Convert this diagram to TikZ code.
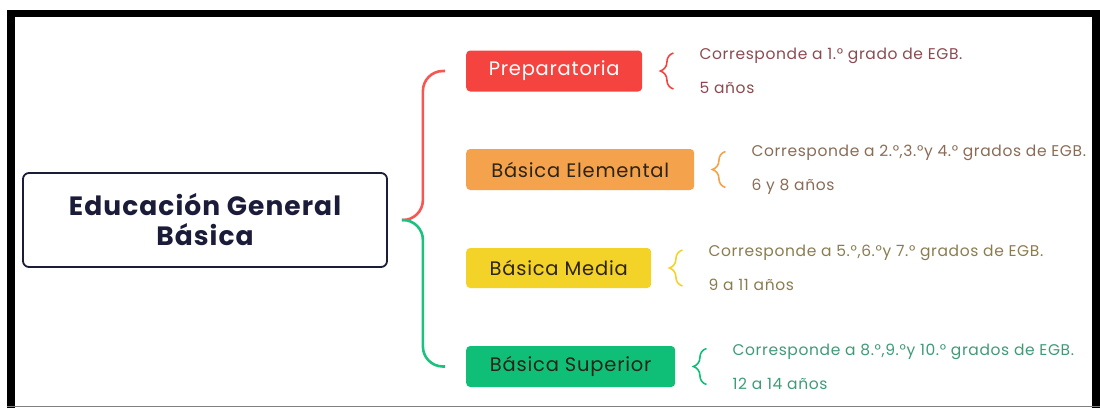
\documentclass[tikz,border=0pt]{standalone}
\usepackage{fontspec}
\setmainfont{Poppins}
\usetikzlibrary{positioning,decorations.pathreplacing}

\definecolor{navy}{HTML}{1B1B3A}
\definecolor{prepfill}{HTML}{F5443F}
\definecolor{elemfill}{HTML}{F4A24C}
\definecolor{mediafill}{HTML}{F3D327}
\definecolor{supfill}{HTML}{0FBF77}
\definecolor{darktext}{HTML}{2D2418}
\definecolor{prepinfo}{HTML}{8B4A50}
\definecolor{eleminfo}{HTML}{8A6B55}
\definecolor{mediainfo}{HTML}{8A7C4F}
\definecolor{supinfo}{HTML}{3F9A76}

\tikzset{
  level/.style={rounded corners=4pt, minimum height=41pt, anchor=west, inner sep=0pt,
    font=\fontsize{19.5}{22}\selectfont\addfontfeature{LetterSpace=4}, text=darktext},
  info/.style={anchor=west, align=left, inner sep=0pt,
    font=\fontsize{15.5}{34}\selectfont\addfontfeature{LetterSpace=4}},
  bracket/.style={line width=1.6pt, decorate, decoration={brace, amplitude=13pt}},
  branch/.style={line width=2.6pt, rounded corners=20pt}
}

\begin{document}
\begin{tikzpicture}[x=1pt, y=-1pt]
    \useasboundingbox (0,0) rectangle (1100,408);

    % Frame
    \fill[black] (7,10) rectangle (1100,17);
    \fill[black] (7,10) rectangle (15,408);
    \fill[black] (1092,10) rectangle (1100,408);
    \draw[gray, line width=1pt] (7,406) -- (1100,406);

    % Root
    \node[draw=navy, line width=1.8pt, rounded corners=6pt, minimum width=364pt, minimum height=94pt,
          align=center, text=navy, font=\bfseries\fontsize{26.5}{30}\selectfont\addfontfeature{LetterSpace=4}]
          (egb) at (205,220) {Educación General\\Básica};

    % Levels
    \node[level, fill=prepfill, minimum width=176pt, text=white] (prepa) at (466,71) {Preparatoria};
    \node[level, fill=elemfill, minimum width=228pt] (elemental) at (466,169.5) {Básica Elemental};
    \node[level, fill=mediafill, minimum width=185pt, minimum height=40pt] (media) at (466,268) {Básica Media};
    \node[level, fill=supfill, minimum width=209pt] (superior) at (466,366.5) {Básica Superior};

    % Branches from the root
    \coordinate[right=14pt of egb.east] (fork);
    \coordinate[left=21pt of prepa.west] (prepaend);
    \coordinate[left=21pt of superior.west] (supend);
    \draw[branch, draw=prepfill!90!white] (fork) -- ++(21,0) |- (prepaend);
    \draw[branch, draw=supfill!95!white] (fork) -- ++(21,0) |- (supend);

    % Braces and descriptions
    \draw[bracket, draw=prepfill] ([xshift=31pt,yshift=-18pt]prepa.east) -- ([xshift=31pt,yshift=18pt]prepa.east);
    \node[info, text=prepinfo, right=57pt of prepa.east] (prepatext)
        {Corresponde a 1.° grado de EGB.\\5 años};

    \draw[bracket, draw=elemfill] ([xshift=31pt,yshift=-18pt]elemental.east) -- ([xshift=31pt,yshift=18pt]elemental.east);
    \node[info, text=eleminfo, right=57pt of elemental.east] (elementaltext)
        {Corresponde a 2.°,3.°y 4.° grados de EGB.\\6 y 8 años};

    \draw[bracket, draw=mediafill] ([xshift=31pt,yshift=-18pt]media.east) -- ([xshift=31pt,yshift=18pt]media.east);
    \node[info, text=mediainfo, right=57pt of media.east] (mediatext)
        {Corresponde a 5.°,6.°y 7.° grados de EGB.\\9 a 11 años};

    \draw[bracket, draw=supfill] ([xshift=31pt,yshift=-18pt]superior.east) -- ([xshift=31pt,yshift=18pt]superior.east);
    \node[info, text=supinfo, right=57pt of superior.east] (superiortext)
        {Corresponde a 8.°,9.°y 10.° grados de EGB.\\12 a 14 años};

\end{tikzpicture}
\end{document}
